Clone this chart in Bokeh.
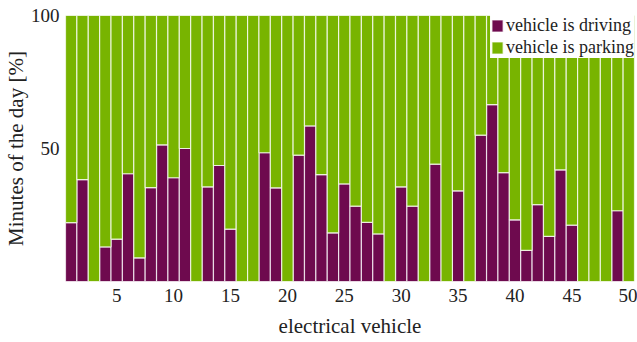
from bokeh.plotting import figure
from bokeh.models import FixedTicker, Range1d, Legend, LegendItem
from bokeh.embed import file_html
from bokeh.resources import INLINE

vehicles = list(range(1, 51))
driving = [22.1, 38.3, 0, 13.0, 15.9, 40.5, 8.9, 35.3, 51.4, 39.0,
           50.0, 0, 35.6, 43.6, 19.7, 0, 0, 48.4, 35.2, 0,
           47.5, 58.5, 40.2, 18.3, 36.7, 28.3, 22.2, 17.9, 0, 35.6,
           28.3, 0, 44.1, 0, 34.1, 0, 55.0, 66.5, 40.9, 23.2,
           11.7, 28.9, 17.0, 42.0, 21.2, 0, 0, 0, 26.6, 0]
parking = [100 - d for d in driving]
x_ticks = [5, 10, 15, 20, 25, 30, 35, 40, 45, 50]
y_ticks = [50, 100]
series = ["vehicle is driving", "vehicle is parking"]
colors = ["#6e0a4e", "#78b400"]

FONT = "Liberation Serif"

p = figure(width=637, height=342, output_backend="svg", toolbar_location=None,
           x_range=Range1d(0.5, 50.5), y_range=Range1d(0, 100),
           min_border_left=64, min_border_right=3, min_border_top=15, min_border_bottom=61)
p.outline_line_color = None
p.background_fill_color = "white"
p.xgrid.visible = False
p.ygrid.visible = False

src = {"x": vehicles, "driving": driving, "parking": parking}
rs = p.vbar_stack(["driving", "parking"], x="x", width=1.0, source=src,
                  color=colors, line_color="white", line_alpha=0.75, line_width=1.2)

p.xaxis.ticker = FixedTicker(ticks=x_ticks)
p.yaxis.ticker = FixedTicker(ticks=y_ticks)
p.xaxis.axis_label = "electrical vehicle"
p.yaxis.axis_label = "Minutes of the day [%]"
for ax in (p.xaxis, p.yaxis):
    ax.axis_line_color = None
    ax.major_tick_line_color = None
    ax.minor_tick_line_color = None
    ax.major_tick_in = 0
    ax.major_tick_out = 0
    ax.major_label_text_font = FONT
    ax.major_label_text_font_size = "19px"
    ax.major_label_text_font_style = "normal"
    ax.major_label_text_color = "#222222"
    ax.axis_label_text_font = FONT
    ax.axis_label_text_font_size = "21px"
    ax.axis_label_text_font_style = "normal"
    ax.axis_label_text_color = "#222222"

p.xaxis.major_label_standoff = 7
p.xaxis.axis_label_standoff = 9
p.yaxis.major_label_standoff = 6
p.yaxis.axis_label_standoff = 0

legend = Legend(items=[LegendItem(label=series[i], renderers=[rs[i]]) for i in range(2)],
                location="top_right", background_fill_color="white", background_fill_alpha=1.0,
                border_line_color=None, margin=0, padding=2, spacing=1,
                glyph_width=14, glyph_height=15, label_height=20, label_standoff=2,
                label_text_font=FONT, label_text_font_size="18px", label_text_color="#222222")
p.add_layout(legend)

open("out.html", "w").write(file_html(p, INLINE))
